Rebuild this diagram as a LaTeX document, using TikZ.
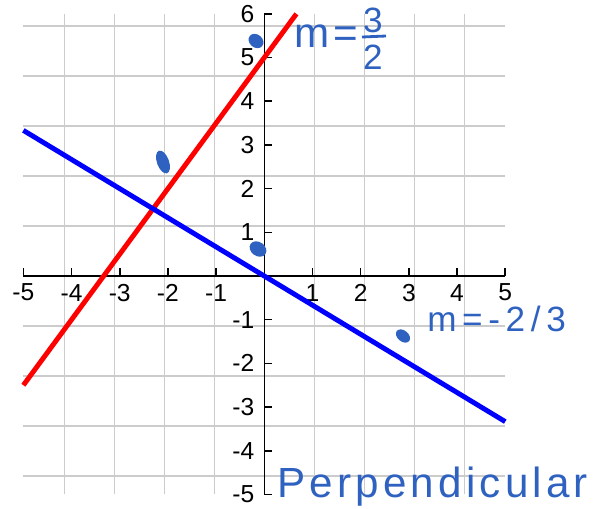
\documentclass[tikz,border=0pt]{standalone}
\usepackage{fontspec}
\setmainfont{Liberation Sans}
\newfontfamily\handfont[LetterSpace=10]{Liberation Sans}
\newfontfamily\handwide[LetterSpace=16]{Liberation Sans}
\definecolor{gridgray}{RGB}{204,204,204}
\definecolor{ink}{RGB}{47,98,192}
\tikzset{
  gridline/.style={gridgray, line width=0.8pt},
  axisline/.style={black, line width=0.9pt},
  ticklabel/.style={inner sep=0pt, font=\fontsize{14}{16}\selectfont},
  hand/.style={ink, inner sep=0pt, font=\handfont\fontsize{24}{28}\selectfont},
  inkdot/.style={ink, fill=ink, draw=none},
}
\begin{document}
\begin{tikzpicture}[x=0.02cm, y=-0.02cm]
\useasboundingbox (0,0) rectangle (602,508);
\begin{scope}[shift={(264.3,276)}, x=0.964cm, y=0.874cm]
  \draw[gridline] (-5,-5) grid (5,6);
  \coordinate (xl) at (-5,0);
  \coordinate (xr) at (5,0);
  \coordinate (yb) at (0,-5);
  \coordinate (yt) at (0,6);
  \draw[axisline] (xl) -- (xr);
  \draw[axisline] (yb) -- (yt);
  \foreach \i in {-5,...,5} {
    \draw[axisline] (\i,0) -- (\i,0.18);
  }
  \foreach \j in {-5,...,6} {
    \draw[axisline] (0,\j) -- (0.17,\j);
  }
  \foreach \i in {-5,-4,-3,-2,-1,1,2,3,4,5} {
    \node[ticklabel] (xlab\i) at (\i,-0.38) {\i};
  }
  \foreach \j in {-5,-4,-3,-2,-1,1,2,3,4,5,6} {
    \node[ticklabel, anchor=east] (ylab\j) at (-0.2,\j) {\j};
  }
  \coordinate (r1) at (-5,-2.5);
  \coordinate (r2) at (0.6667,6);
  \coordinate (b1) at (-5,3.3333);
  \coordinate (b2) at (5,-3.3333);
  \draw[red, line width=2.8pt] (r1) -- (r2);
  \draw[blue, line width=2.8pt] (b1) -- (b2);
\end{scope}
% handwritten annotations
\fill[inkdot, rotate around={-40:(256,41)}] (256,41) ellipse (8 and 6.5);
\fill[inkdot, rotate around={-70:(163,162)}] (163,162) ellipse (12 and 6);
\fill[inkdot, rotate around={-35:(258,249)}] (258,249) ellipse (9 and 7);
\fill[inkdot, rotate around={-40:(403,336)}] (403,336) ellipse (8 and 5.5);
\node[hand, anchor=base west] (mred) at (294,47) {m=};
\node[hand, anchor=center, font=\handfont\fontsize{20}{24}\selectfont] (fnum) at (373,20) {3};
\node[hand, anchor=center, font=\handfont\fontsize{20}{24}\selectfont] (fden) at (373,57) {2};
\draw[ink, line width=1.6pt] (362,37) -- (386,36);
\node[hand, anchor=base west, font=\handwide\fontsize{20}{24}\selectfont] (mblue) at (427,331) {m=-2/3};
\node[hand, anchor=base west] (perp) at (277,497) {Perpendicular};
\end{tikzpicture}
\end{document}
